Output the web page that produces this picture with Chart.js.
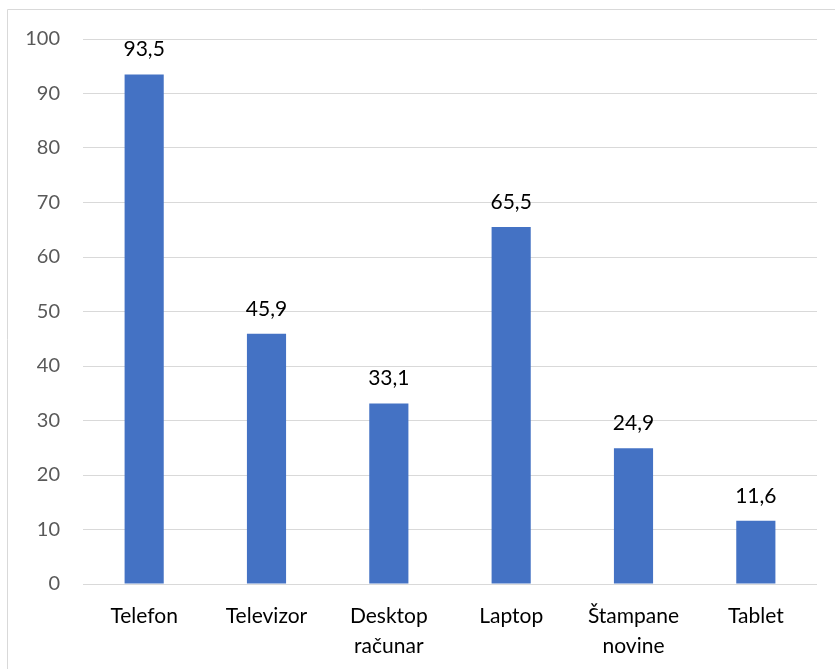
<!DOCTYPE html>
<html lang="sr">
<head>
    <meta charset="UTF-8">
    <title>Uređaji</title>
    <script src="https://cdn.jsdelivr.net/npm/chart.js"></script>
    <style>
        body {
            margin: 0;
            background-color: #ffffff;
        }
        canvas {
            display: block;
        }
    </style>
</head>
<body>
    <canvas id="deviceChart" width="835" height="669"></canvas>

    <script>
        // Chart data
        const categories = ['Telefon', 'Televizor', ['Desktop', 'računar'], 'Laptop', ['Štampane', 'novine'], 'Tablet'];
        const values = [93.5, 45.9, 33.1, 65.5, 24.9, 11.6];
        const yTicks = [0, 10, 20, 30, 40, 50, 60, 70, 80, 90, 100];

        const fontFamily = 'Lato, "Open Sans", sans-serif';

        // Light frame around the chart, like the Excel chart area border
        const framePlugin = {
            id: 'frame',
            beforeDraw(chart) {
                const ctx = chart.ctx;
                ctx.save();
                ctx.strokeStyle = '#d9d9d9';
                ctx.lineWidth = 1;
                ctx.beginPath();
                ctx.moveTo(7.5, chart.height);
                ctx.lineTo(7.5, 9.5);
                ctx.lineTo(chart.width, 9.5);
                ctx.stroke();
                ctx.restore();
            }
        };

        // Value labels above bars, decimal comma
        const valueLabels = {
            id: 'valueLabels',
            afterDatasetsDraw(chart) {
                const ctx = chart.ctx;
                const meta = chart.getDatasetMeta(0);
                ctx.save();
                ctx.font = '21px ' + fontFamily;
                ctx.fillStyle = '#000000';
                ctx.textAlign = 'center';
                ctx.textBaseline = 'middle';
                meta.data.forEach((bar, i) => {
                    const text = values[i].toFixed(1).replace('.', ',');
                    ctx.fillText(text, bar.x, bar.y - 25);
                });
                ctx.restore();
            }
        };

        const ctx = document.getElementById('deviceChart').getContext('2d');

        new Chart(ctx, {
            type: 'bar',
            data: {
                labels: categories,
                datasets: [{
                    data: values,
                    backgroundColor: '#4472c4',
                    borderWidth: 0,
                    barPercentage: 0.32,
                    categoryPercentage: 1
                }]
            },
            options: {
                responsive: false,
                animation: false,
                layout: {
                    padding: { top: 39, right: 18, left: 0, bottom: 0 }
                },
                plugins: {
                    legend: { display: false },
                    tooltip: { enabled: false }
                },
                scales: {
                    x: {
                        grid: { display: false, drawTicks: false },
                        border: { display: false },
                        ticks: {
                            color: '#000000',
                            padding: 17,
                            maxRotation: 0,
                            autoSkip: false,
                            font: { family: fontFamily, size: 21, lineHeight: 1.45 }
                        },
                        afterFit(scale) {
                            scale.height = 85;
                        }
                    },
                    y: {
                        min: 0,
                        max: 100,
                        afterBuildTicks(scale) {
                            scale.ticks = yTicks.map(v => ({ value: v }));
                        },
                        grid: { color: '#d9d9d9', lineWidth: 1, drawTicks: false },
                        border: { display: false },
                        ticks: {
                            color: '#595959',
                            padding: 23,
                            font: { family: fontFamily, size: 20 }
                        },
                        afterFit(scale) {
                            scale.width = 83;
                        }
                    }
                }
            },
            plugins: [framePlugin, valueLabels]
        });
    </script>
</body>
</html>
